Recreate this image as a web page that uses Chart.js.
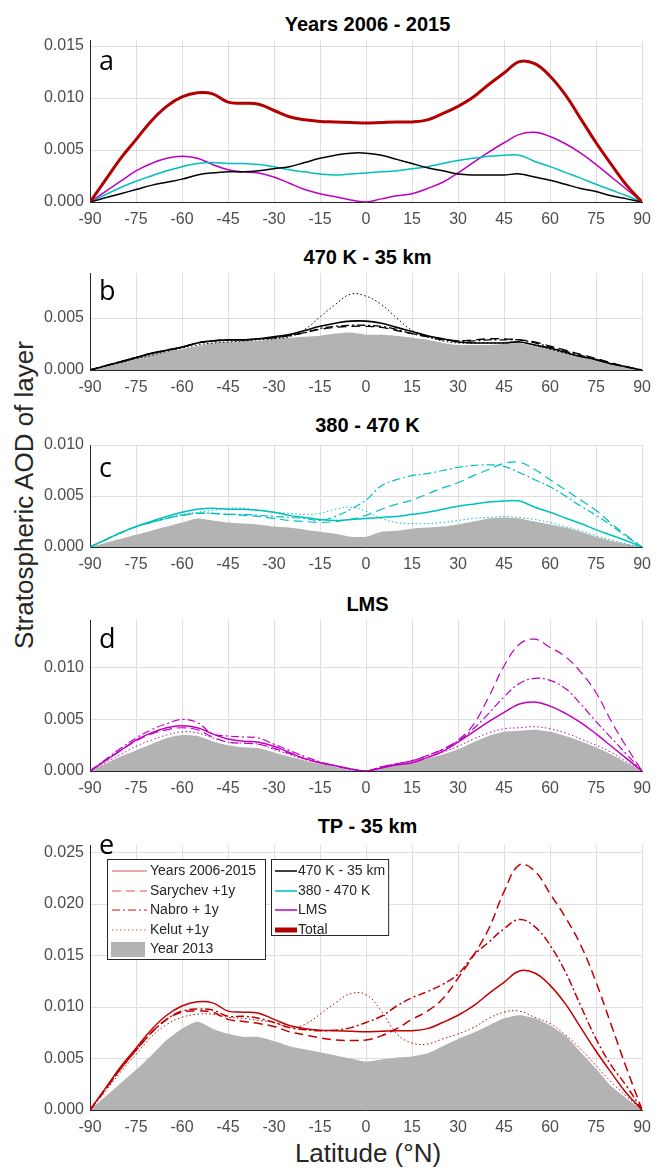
<!DOCTYPE html>
<html>
<head>
<meta charset="utf-8">
<script src="https://cdn.jsdelivr.net/npm/chart.js@4.4.0/dist/chart.umd.min.js"></script>
<style>
  body { margin:0; width:659px; height:1168px; background:#fff; position:relative; overflow:hidden; font-family:"Liberation Sans", Arial, sans-serif; }
  canvas { position:absolute; left:0; }
  .ttl { position:absolute; left:90px; width:555px; text-align:center; font-weight:bold; font-size:20px; line-height:24px; color:#000; }
  .axt { position:absolute; font-size:26px; line-height:30px; color:#262626; text-align:center; white-space:nowrap; }
</style>
</head>
<body>
<div class="ttl" style="top:12px">Years 2006 - 2015</div>
<div class="ttl" style="top:245px">470 K - 35 km</div>
<div class="ttl" style="top:413px">380 - 470 K</div>
<div class="ttl" style="top:592px">LMS</div>
<div class="ttl" style="top:814px">TP - 35 km</div>
<div class="axt" style="left:-226px; top:480px; width:500px; transform:rotate(-90deg)">Stratospheric AOD of layer</div>
<div class="axt" style="left:218px; top:1138px; width:300px">Latitude (°N)</div>
<canvas id="ca"></canvas>
<canvas id="cb"></canvas>
<canvas id="cc"></canvas>
<canvas id="cd"></canvas>
<canvas id="ce"></canvas>
<script>
// latitude grid (deg N); AOD values below are in units of 1e-3
const lat = [-90,-85,-80,-75,-70,-65,-60,-55,-50,-45,-40,-35,-30,-25,-20,-15,-10,-5,0,5,10,15,20,25,30,35,40,45,50,55,60,65,70,75,80,85,90];
const xTicks = [-90,-75,-60,-45,-30,-15,0,15,30,45,60,75,90];

// panel a: years 2006-2015
const total06 = [0,2.1,4.2,6.0,7.8,9.2,10.1,10.5,10.4,9.6,9.5,9.4,8.8,8.2,7.9,7.75,7.7,7.65,7.6,7.65,7.7,7.7,7.9,8.5,9.2,10.1,11.3,12.4,13.5,13.3,12.1,10.3,8.0,5.7,3.6,1.6,0];
const k470_06 = [0,0.4,0.8,1.2,1.6,1.9,2.2,2.6,2.8,2.9,2.9,3.0,3.2,3.4,3.8,4.2,4.5,4.7,4.7,4.5,4.1,3.7,3.3,3.0,2.7,2.6,2.6,2.6,2.7,2.4,2.1,1.7,1.3,1.0,0.6,0.3,0];
const k380_06 = [0,0.7,1.4,2.0,2.5,3.0,3.4,3.7,3.8,3.7,3.7,3.6,3.4,3.1,2.9,2.7,2.6,2.7,2.8,2.9,3.0,3.2,3.4,3.7,4.0,4.2,4.4,4.5,4.5,3.9,3.4,2.85,2.3,1.7,1.15,0.6,0];
const lms06   = [0,1.0,2.0,3.0,3.7,4.2,4.4,4.2,3.6,3.1,2.9,2.8,2.4,1.8,1.2,0.8,0.5,0.2,0.0,0.3,0.6,0.8,1.3,1.9,2.8,3.8,4.8,5.7,6.5,6.7,6.3,5.6,4.7,3.6,2.4,1.2,0];

// panel b: 470 K - 35 km
const year13B = [0,0.4,0.8,1.2,1.5,1.8,2.0,2.3,2.6,2.7,2.8,2.8,3.0,3.1,3.2,3.3,3.5,3.6,3.4,3.4,3.3,3.1,2.9,2.6,2.4,2.4,2.4,2.5,2.6,2.3,2.0,1.6,1.3,1.0,0.6,0.3,0];
const saryB = [0,0.4,0.8,1.2,1.6,1.9,2.2,2.6,2.8,2.9,2.9,3.0,3.1,3.3,3.6,3.9,4.1,4.2,4.2,4.1,3.8,3.5,3.2,3.0,2.8,2.9,3.0,3.0,2.9,2.7,2.3,1.9,1.5,1.1,0.7,0.3,0];
const nabroB = [0,0.4,0.8,1.2,1.6,1.9,2.2,2.6,2.8,2.9,2.9,3.0,3.1,3.3,3.6,4.0,4.2,4.3,4.3,4.2,3.9,3.5,3.2,2.9,2.8,2.8,2.9,2.9,2.9,2.6,2.2,1.8,1.4,1.0,0.6,0.3,0];
const kelutB = [0,0.4,0.7,1.1,1.4,1.8,2.1,2.4,2.6,2.7,2.8,2.9,3.0,3.2,3.9,5.1,6.3,7.3,7.1,6.3,5.0,3.8,3.2,2.8,2.6,2.6,2.6,2.6,2.7,2.4,2.0,1.6,1.3,1.0,0.6,0.3,0];

// panel c: 380 - 470 K
const year13C = [0,0.4,0.8,1.2,1.6,2.0,2.4,2.8,2.6,2.4,2.3,2.2,2.0,1.9,1.7,1.5,1.3,1.0,1.0,1.5,1.6,1.8,1.9,2.0,2.2,2.5,2.8,2.9,2.8,2.5,2.2,1.9,1.5,1.0,0.6,0.3,0];
const saryC = [0,0.7,1.4,2.0,2.4,2.8,3.1,3.3,3.3,3.2,3.1,3.0,2.8,2.6,2.5,2.4,2.5,2.7,3.1,3.7,4.2,4.6,5.2,5.8,6.3,7.0,7.6,8.2,8.3,7.6,6.6,5.6,4.6,3.6,2.3,1.1,0];
const nabroC = [0,0.7,1.4,2.0,2.4,2.8,3.1,3.3,3.3,3.2,3.2,3.1,3.0,2.9,2.8,2.6,3.0,3.7,4.6,6.0,6.6,7.0,7.2,7.5,7.8,8.0,8.05,7.9,7.3,6.6,5.9,5.0,4.0,3.1,2.1,1.0,0];
const kelutC = [0,0.7,1.4,2.0,2.5,2.9,3.2,3.4,3.6,3.8,3.8,3.6,3.4,3.3,3.2,3.3,3.7,3.9,3.5,2.8,2.4,2.3,2.3,2.4,2.6,2.8,2.9,3.0,2.9,2.7,2.4,2.0,1.6,1.1,0.7,0.3,0];

// panel d: LMS
const year13D = [0,0.7,1.4,2.0,2.6,3.2,3.5,3.4,2.9,2.5,2.3,2.2,1.8,1.4,1.0,0.7,0.4,0.2,0.0,0.3,0.6,0.8,1.2,1.6,2.1,2.8,3.4,3.8,3.9,4.0,3.8,3.4,2.9,2.3,1.6,0.8,0];
const saryD = [0,1.0,2.0,2.9,3.6,4.0,4.2,4.0,3.3,2.8,2.7,2.6,2.2,1.7,1.2,0.8,0.5,0.2,0.0,0.4,0.7,1.0,1.5,2.1,3.0,4.5,7.2,10.2,12.3,12.8,12.0,11.1,9.6,7.6,4.8,2.3,0];
const nabroD = [0,1.1,2.2,3.2,4.0,4.6,5.0,4.7,3.6,3.4,3.3,3.2,2.6,2.0,1.4,0.9,0.5,0.2,0.0,0.4,0.7,1.0,1.5,2.1,2.9,4.1,5.6,7.2,8.5,9.0,8.8,8.0,6.5,4.8,3.2,1.6,0];
const kelutD = [0,0.8,1.6,2.4,3.0,3.5,3.8,3.7,3.2,2.8,2.7,2.6,2.1,1.6,1.1,0.8,0.5,0.2,0.0,0.3,0.6,0.9,1.3,1.8,2.4,3.1,3.7,4.1,4.2,4.3,4.1,3.7,3.1,2.5,1.8,0.9,0];

// panel e: TP - 35 km
const year13E = [0,1.3,2.6,3.9,5.3,6.8,7.9,8.6,7.9,7.4,7.1,7.1,6.7,6.2,5.9,5.6,5.3,5.0,4.7,4.9,5.1,5.2,5.5,6.2,6.9,7.5,8.2,8.9,9.2,8.9,8.2,7.2,5.6,4.0,2.3,1.1,0];
const saryE = [0,2.0,4.0,5.8,7.5,8.8,9.5,9.6,9.5,8.8,8.6,8.4,8.1,7.6,7.3,7.0,6.8,6.75,6.8,7.2,7.9,8.8,9.6,10.8,12.8,15.0,17.6,21.2,23.8,23.2,21.0,18.7,16.0,12.4,8.2,4.0,0];
const nabroE = [0,2.0,4.0,5.8,7.5,8.8,9.6,9.8,9.7,9.1,9.1,8.9,8.5,8.0,7.8,7.7,7.75,8.0,8.5,9.1,10.1,10.9,11.5,12.2,13.2,15.0,16.3,17.6,18.5,17.8,16.0,13.4,10.1,6.9,4.3,2.3,0];
const kelutE = [0,1.8,3.7,5.4,7.1,8.3,9.0,9.3,9.3,9.0,8.9,8.7,8.5,8.0,8.3,9.3,10.4,11.3,11.2,9.6,7.4,6.5,6.4,6.9,7.4,8.0,8.9,9.5,9.6,9.0,8.4,7.3,5.9,4.3,2.7,1.3,0];

const legendNames1 = ['Years 2006-2015','Sarychev +1y','Nabro + 1y','Kelut +1y','Year 2013'];
const legendNames2 = ['470 K - 35 km','380 - 470 K','LMS','Total'];

const BLACK = '#000000', CYAN = '#00bfbf', MAG = '#bf00bf', DRED = '#b30000', RED = '#c00000', GRAY = '#b3b3b3';
const DASH = [9,5], DASHDOT = [8,3,2,3], DOT = [1.5,2.5];
const TICKFONT = { family: '"Liberation Sans", Arial, sans-serif', size: 16 };

function series(vals, color, width, dash) {
  return {
    data: lat.map((x, i) => ({ x: x, y: vals[i] / 1000 })),
    borderColor: color, borderWidth: width, borderDash: dash || [],
    pointRadius: 0, fill: false, tension: 0.4
  };
}
function area(vals) {
  return {
    data: lat.map((x, i) => ({ x: x, y: vals[i] / 1000 })),
    fill: 'origin', backgroundColor: GRAY, borderColor: 'rgba(0,0,0,0)', borderWidth: 0,
    pointRadius: 0, tension: 0.2, order: 10
  };
}

const PAD_TOP = 20, X_H = 30;

function makePanel(id, plotTop, plotBottom, yMax, yTicks, letter, letterBase, datasets, extra) {
  const cv = document.getElementById(id);
  const top = plotTop - PAD_TOP;
  const h = plotBottom - plotTop + PAD_TOP + X_H;
  cv.width = 659; cv.height = h;
  cv.style.top = top + 'px'; cv.style.width = '659px'; cv.style.height = h + 'px';
  const letterPlugin = {
    id: 'letter',
    afterDraw(chart) {
      const c = chart.ctx;
      c.save();
      c.font = '27px "Open Sans", "Noto Sans", sans-serif';
      c.fillStyle = '#000';
      c.textBaseline = 'alphabetic';
      c.fillText(letter, 99, letterBase - top);
      c.restore();
    }
  };
  const plugins = [letterPlugin];
  if (extra) plugins.push(extra(top));
  return new Chart(cv, {
    type: 'line',
    data: { datasets: datasets },
    plugins: plugins,
    options: {
      responsive: false, animation: false, devicePixelRatio: 1,
      layout: { padding: { top: PAD_TOP, right: 13, left: 0, bottom: 0 } },
      plugins: { legend: { display: false }, tooltip: { enabled: false }, title: { display: false } },
      scales: {
        x: {
          type: 'linear', min: -90, max: 90,
          afterBuildTicks: s => { s.ticks = xTicks.map(v => ({ value: v })); },
          afterFit: s => { s.height = X_H; },
          ticks: { font: TICKFONT, color: '#4d4d4d', padding: 8, maxRotation: 0, autoSkip: false },
          grid: { color: '#dedede', drawTicks: false },
          border: { color: '#262626', width: 1 }
        },
        y: {
          min: 0, max: yMax,
          afterBuildTicks: s => { s.ticks = yTicks.map(v => ({ value: v })); },
          afterFit: s => { s.width = 90; },
          ticks: { font: TICKFONT, color: '#4d4d4d', padding: 6, callback: v => v.toFixed(3) },
          grid: { color: '#dedede', drawTicks: false },
          border: { color: '#262626', width: 1 }
        }
      }
    }
  });
}

function legendE(top) {
  return {
    id: 'legendE',
    afterDraw(chart) {
      const c = chart.ctx;
      c.save();
      c.font = '14px "Liberation Sans", Arial, sans-serif';
      c.textBaseline = 'middle';
      const rows = [871, 891, 910, 930, 949];
      // box 1
      c.fillStyle = '#fff'; c.strokeStyle = '#262626'; c.lineWidth = 1;
      c.fillRect(107.5, 859.5 - top, 158, 100);
      c.strokeRect(107.5, 859.5 - top, 158, 100);
      const dashes = [[], DASH, DASHDOT, DOT];
      const lc = ['#e05050', '#e05050', '#cc1010', '#e06060'];
      for (let i = 0; i < 4; i++) {
        c.beginPath(); c.setLineDash(dashes[i]);
        c.strokeStyle = lc[i]; c.lineWidth = 1;
        c.moveTo(112, rows[i] - top); c.lineTo(147, rows[i] - top); c.stroke();
      }
      c.setLineDash([]);
      c.fillStyle = GRAY; c.fillRect(111, 942 - top, 34, 15);
      c.fillStyle = '#262626';
      legendNames1.forEach((t, i) => c.fillText(t, 150, rows[i] - top));
      // box 2
      const w2 = Math.max(...legendNames2.map(t => c.measureText(t).width));
      c.fillStyle = '#fff'; c.strokeStyle = '#262626'; c.lineWidth = 1;
      c.fillRect(271.5, 859.5 - top, 30 + w2, 76);
      c.strokeRect(271.5, 859.5 - top, 30 + w2, 76);
      const cols = [BLACK, CYAN, MAG, DRED];
      const wid = [1.5, 1.5, 1.5, 5];
      for (let i = 0; i < 4; i++) {
        c.beginPath(); c.strokeStyle = cols[i]; c.lineWidth = wid[i];
        c.moveTo(275, rows[i] - top); c.lineTo(297, rows[i] - top); c.stroke();
      }
      c.fillStyle = '#262626';
      legendNames2.forEach((t, i) => c.fillText(t, 298, rows[i] - top));
      c.restore();
    }
  };
}

makePanel('ca', 40, 202, 0.01558, [0, 0.005, 0.010, 0.015], 'a', 70, [
  series(total06, DRED, 3),
  series(k470_06, BLACK, 1.5),
  series(k380_06, CYAN, 1.5),
  series(lms06, MAG, 1.5)
]);
makePanel('cb', 273, 370, 0.00933, [0, 0.005], 'b', 300, [
  series(k470_06, BLACK, 1.6),
  series(saryB, BLACK, 1.3, DASH),
  series(nabroB, BLACK, 1.3, DASHDOT),
  series(kelutB, BLACK, 1, DOT),
  area(year13B)
]);
makePanel('cc', 445, 547, 0.010, [0, 0.005, 0.010], 'c', 477, [
  series(k380_06, CYAN, 1.5),
  series(saryC, CYAN, 1.2, DASH),
  series(nabroC, CYAN, 1.2, DASHDOT),
  series(kelutC, CYAN, 1, DOT),
  area(year13C)
]);
makePanel('cd', 620, 771, 0.01466, [0, 0.005, 0.010], 'd', 648, [
  series(lms06, MAG, 1.5),
  series(saryD, MAG, 1.2, DASH),
  series(nabroD, MAG, 1.2, DASHDOT),
  series(kelutD, MAG, 1, DOT),
  area(year13D)
]);
makePanel('ce', 845, 1110, 0.02573, [0, 0.005, 0.010, 0.015, 0.020, 0.025], 'e', 854, [
  series(total06, RED, 1.5),
  series(saryE, RED, 1.5, DASH),
  series(nabroE, RED, 1.5, DASHDOT),
  series(kelutE, RED, 1, DOT),
  area(year13E)
], legendE);
</script>
</body>
</html>
